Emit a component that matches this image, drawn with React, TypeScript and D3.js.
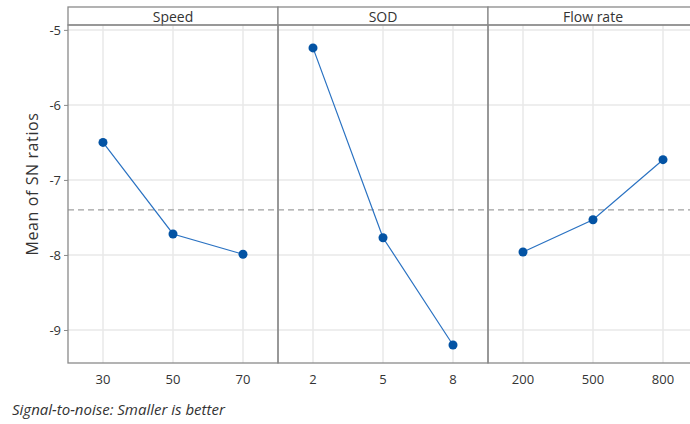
import React, { useRef, useEffect } from 'react';
import * as d3 from 'd3';

// factor names and their levels
const factors = ['Speed', 'SOD', 'Flow rate'];
const speedLevels = ['30', '50', '70'];
const sodLevels = ['2', '5', '8'];
const flowLevels = ['200', '500', '800'];

// mean of SN ratios per level
const speedMeans = [-6.50, -7.72, -7.99];
const sodMeans = [-5.24, -7.77, -9.20];
const flowMeans = [-7.96, -7.53, -6.73];

const overallMean = -7.40;
const yTicks = [-5, -6, -7, -8, -9];

const levels = [speedLevels, sodLevels, flowLevels];
const means = [speedMeans, sodMeans, flowMeans];

function App() {
  const svgRef = useRef<SVGSVGElement | null>(null);
  const width = 690;
  const height = 424;

  useEffect(() => {
    const svg = d3.select(svgRef.current);
    svg.selectAll('*').remove();

    const margin = { top: 25, left: 68, bottom: 61, headerTop: 7 };
    const panelW = 210;
    const innerHeight = height - margin.top - margin.bottom;
    const font = "'Open Sans', 'Noto Sans', sans-serif";

    const y = d3.scaleLinear()
      .domain([-4.935, -9.44])
      .range([margin.top, margin.top + innerHeight]);

    const bottom = margin.top + innerHeight;
    const fullRight = margin.left + panelW * factors.length;

    // horizontal grid across all panels
    svg.append('g')
      .selectAll('line')
      .data(yTicks)
      .enter()
      .append('line')
      .attr('x1', margin.left)
      .attr('x2', fullRight)
      .attr('y1', d => y(d))
      .attr('y2', d => y(d))
      .attr('stroke', '#e8e8e8')
      .attr('stroke-width', 1.5);

    factors.forEach((name, i) => {
      const x0 = margin.left + panelW * i;
      const x = d3.scalePoint<string>()
        .domain(levels[i])
        .range([x0, x0 + panelW])
        .padding(0.5);

      const g = svg.append('g');

      // vertical grid
      g.selectAll('.vgrid')
        .data(levels[i])
        .enter()
        .append('line')
        .attr('class', 'vgrid')
        .attr('x1', d => x(d) as number)
        .attr('x2', d => x(d) as number)
        .attr('y1', margin.top)
        .attr('y2', bottom)
        .attr('stroke', '#e8e8e8')
        .attr('stroke-width', 1.5);

      // x tick labels
      g.selectAll('.xlab')
        .data(levels[i])
        .enter()
        .append('text')
        .attr('class', 'xlab')
        .attr('x', d => x(d) as number)
        .attr('y', bottom + 21)
        .attr('text-anchor', 'middle')
        .style('font-family', font)
        .style('font-size', '13px')
        .attr('fill', '#333')
        .text(d => d);

      // mean reference line
      g.append('line')
        .attr('x1', x0)
        .attr('x2', x0 + panelW)
        .attr('y1', y(overallMean))
        .attr('y2', y(overallMean))
        .attr('stroke', '#a0a0a0')
        .attr('stroke-width', 1.2)
        .attr('stroke-dasharray', '6,4');

      const line = d3.line<number>()
        .x((d, j) => x(levels[i][j]) as number)
        .y(d => y(d));

      g.append('path')
        .datum(means[i])
        .attr('fill', 'none')
        .attr('stroke', '#2a72c2')
        .attr('stroke-width', 1.2)
        .attr('d', line);

      g.selectAll('.dot')
        .data(means[i])
        .enter()
        .append('circle')
        .attr('class', 'dot')
        .attr('cx', (d, j) => x(levels[i][j]) as number)
        .attr('cy', d => y(d))
        .attr('r', 4.5)
        .attr('fill', '#0353a4');

      // header strip
      g.append('rect')
        .attr('x', x0)
        .attr('y', margin.headerTop)
        .attr('width', panelW)
        .attr('height', margin.top - margin.headerTop)
        .attr('fill', '#fff')
        .attr('stroke', '#8a8a8a')
        .attr('stroke-width', 1.3);

      g.append('text')
        .attr('x', x0 + panelW / 2)
        .attr('y', 22)
        .attr('text-anchor', 'middle')
        .style('font-family', font)
        .style('font-size', '14px')
        .attr('fill', '#333')
        .text(name);

      // panel frame
      g.append('rect')
        .attr('x', x0)
        .attr('y', margin.top)
        .attr('width', panelW)
        .attr('height', innerHeight)
        .attr('fill', 'none')
        .attr('stroke', '#8a8a8a')
        .attr('stroke-width', 1.3);
    });

    // y axis
    const yAxis = svg.append('g')
      .attr('transform', `translate(${margin.left},0)`)
      .call(d3.axisLeft(y).tickValues(yTicks).tickSize(4).tickPadding(3).tickFormat(d => String(d)));
    yAxis.select('.domain').remove();
    yAxis.selectAll('.tick line').attr('stroke', '#8a8a8a');
    yAxis.selectAll('.tick text')
      .style('font-family', font)
      .style('font-size', '13px')
      .attr('fill', '#333');

    // y label
    svg.append('text')
      .attr('transform', 'rotate(-90)')
      .attr('x', -184)
      .attr('y', 38)
      .attr('text-anchor', 'middle')
      .style('font-family', font)
      .style('font-size', '16px')
      .style('letter-spacing', '0.6px')
      .attr('fill', '#333')
      .text('Mean of SN ratios');

    // footnote
    svg.append('text')
      .attr('x', 12)
      .attr('y', 415)
      .style('font-family', font)
      .style('font-size', '15px')
      .style('font-style', 'italic')
      .attr('fill', '#333')
      .text('Signal-to-noise: Smaller is better');
  }, []);

  return (
    <svg
      ref={svgRef}
      width={width}
      height={height}
      style={{ position: 'absolute', left: 0, top: 0, background: '#fff' }}
    />
  );
}

export default App;
